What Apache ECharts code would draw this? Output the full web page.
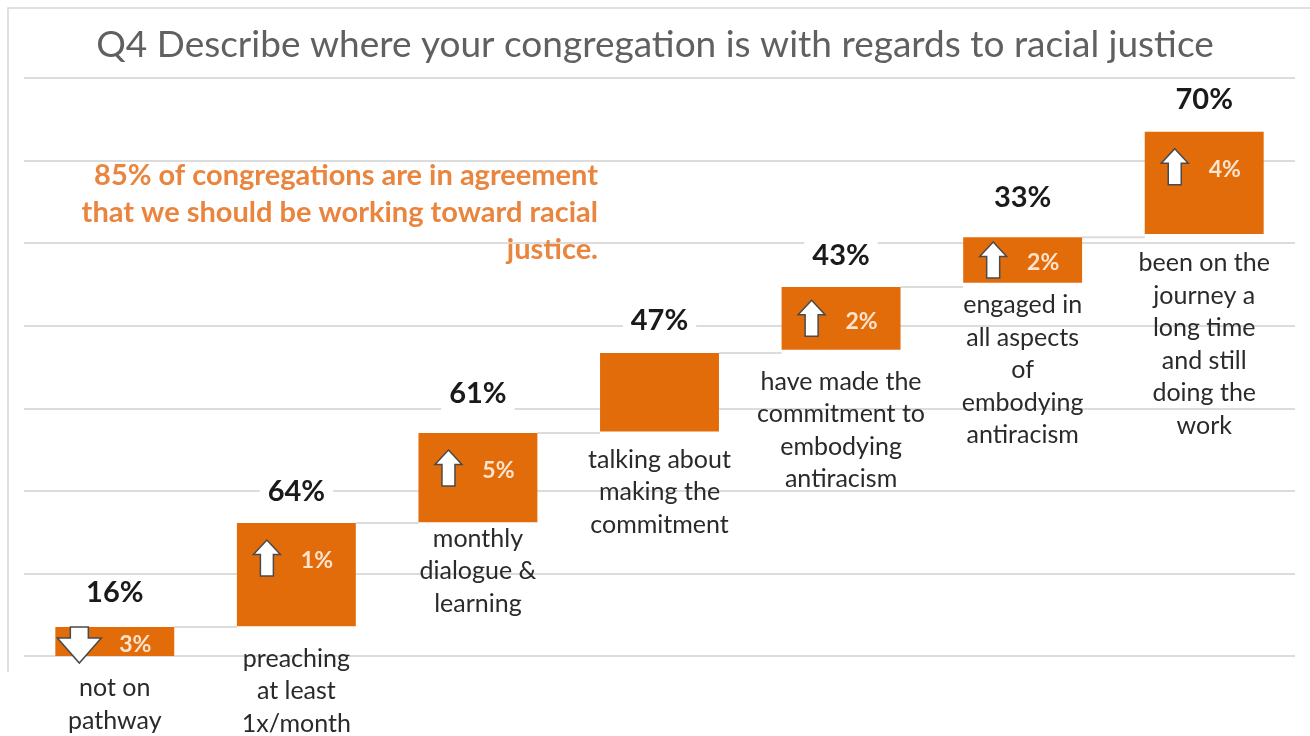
<!DOCTYPE html>
<html>
<head>
<meta charset="utf-8">
<script src="https://cdn.jsdelivr.net/npm/echarts@6/dist/echarts.min.js"></script>
<style>
html,body{margin:0;padding:0;background:#fff;}
#chart{width:1310px;height:736px;}
</style>
</head>
<body>
<div id="chart"></div>
<script>
// ---- data ----
const categories = [
  'not on\npathway',
  'preaching\nat least\n1x/month',
  'monthly\ndialogue &\nlearning',
  'talking about\nmaking the\ncommitment',
  'have made the\ncommitment to\nembodying\nantiracism',
  'engaged in\nall aspects\nof\nembodying\nantiracism',
  'been on the\njourney a\nlong time\nand still\ndoing the\nwork'
];
const shares = [16, 64, 61, 47, 43, 33, 70];          // % shown above each step
const changes = [-3, 1, 5, null, 2, 2, 4];             // change vs previous survey
const stepLow = [0.00, 0.36, 1.62, 2.72, 3.71, 4.52, 5.11];   // step bottom (gridline units)
const stepHigh = [0.35, 1.61, 2.70, 3.67, 4.47, 5.07, 6.35];  // step top (gridline units)
const titleText = 'Q4 Describe where your congregation is with regards to racial justice';
const noteText = '85% of congregations are in agreement\nthat we should be working toward racial\njustice.';

// ---- styles ----
const FONT = 'Lato, "Open Sans", sans-serif';
const ORANGE = '#E36C0A';
const GRID = '#DCDCDC';
// per-step text spacing (style only): gap below step for category text, gap above for value text
const catGap = [16, 16, 0, 12, 16, 6, 13];
const valGap = [34, 31, 39, 32, 31, 40, 32];

const seriesData = categories.map((c, i) => [i, stepLow[i], stepHigh[i], shares[i], changes[i] == null ? 0 : changes[i]]);

function renderItem(params, api) {
  const i = params.dataIndex;
  const low = api.value(1), high = api.value(2);
  const share = api.value(3), chg = changes[i];
  const pLow = api.coord([i, low]);
  const pHigh = api.coord([i, high]);
  const band = api.size([1, 0])[0];
  const w = band * 0.655;
  const left = pLow[0] - w / 2;
  const top = pHigh[1];
  const h = pLow[1] - pHigh[1];
  const children = [];
  if (i < categories.length - 1) {
    children.push({
      type: 'line',
      shape: { x1: left + w, y1: top, x2: pLow[0] + band - w / 2, y2: top },
      style: { stroke: GRID, lineWidth: 2 }
    });
  }
  children.push({
    type: 'rect',
    shape: { x: left, y: top, width: w, height: h },
    style: { fill: ORANGE }
  });
  children.push({
    type: 'text',
    style: {
      text: share + '%', x: pLow[0], y: top - valGap[i],
      align: 'center', verticalAlign: 'middle',
      font: 'bold 29px ' + FONT, fill: '#1a1a1a',
      backgroundColor: '#fff', padding: [3, 8]
    }
  });
  children.push({
    type: 'text',
    style: {
      text: categories[i], x: pLow[0], y: pLow[1] + catGap[i],
      align: 'center', verticalAlign: 'top',
      font: '25px ' + FONT, fill: '#2a2a2a', lineHeight: 32.5
    }
  });
  if (chg != null) {
    let pts, ly;
    if (chg < 0) {
      const cx = left + 24, t = top;
      pts = [[cx - 9, t], [cx + 9, t], [cx + 9, t + 11], [cx + 22, t + 11], [cx, t + 36], [cx - 22, t + 11], [cx - 9, t + 11]];
      ly = top + h / 2 + 3;
    } else {
      const cx = left + 30, cy = top + Math.min(h / 2, 35);
      pts = [[cx, cy - 18], [cx + 13.5, cy - 3.5], [cx + 6.5, cy - 3.5], [cx + 6.5, cy + 18], [cx - 6.5, cy + 18], [cx - 6.5, cy - 3.5], [cx - 13.5, cy - 3.5]];
      ly = cy + 3;
    }
    children.push({
      type: 'polygon',
      shape: { points: pts },
      style: { fill: '#fff', stroke: '#4a4a4a', lineWidth: 1.5 }
    });
    children.push({
      type: 'text',
      style: {
        text: Math.abs(chg) + '%', x: left + 80, y: ly,
        align: 'center', verticalAlign: 'middle',
        font: 'bold 23px ' + FONT, fill: '#FCE4CF'
      }
    });
  }
  return { type: 'group', children: children };
}

const chart = echarts.init(document.getElementById('chart'), null, { renderer: 'canvas' });
chart.setOption({
  backgroundColor: '#fff',
  animation: false,
  title: {
    text: titleText,
    left: 'center',
    top: 22,
    textStyle: { fontFamily: FONT, fontSize: 37, fontWeight: 'normal', color: '#606060' }
  },
  grid: { left: 24, right: 15, top: 78, bottom: 80 },
  xAxis: {
    type: 'category',
    data: categories,
    axisLine: { show: false }, axisTick: { show: false }, axisLabel: { show: false },
    splitLine: { show: false }
  },
  yAxis: {
    type: 'value', min: 0, max: 7, interval: 1,
    axisLine: { show: false }, axisTick: { show: false }, axisLabel: { show: false },
    splitLine: { show: true, lineStyle: { color: GRID, width: 2 } }
  },
  graphic: [
    {
      type: 'polyline',
      shape: { points: [[8, 672], [8, 8], [1310, 8]] },
      style: { stroke: '#D6D6D6', lineWidth: 1.5, fill: null },
      z: 0
    },
    {
      type: 'text',
      x: 598, y: 157,
      style: {
        text: noteText, align: 'right', verticalAlign: 'top',
        font: 'bold 29px ' + FONT, fill: '#E9853F', lineHeight: 37
      },
      z: 10
    }
  ],
  series: [{
    type: 'custom',
    renderItem: renderItem,
    data: seriesData,
    clip: false,
    encode: { x: 0, y: [1, 2] }
  }]
});
</script>
</body>
</html>
